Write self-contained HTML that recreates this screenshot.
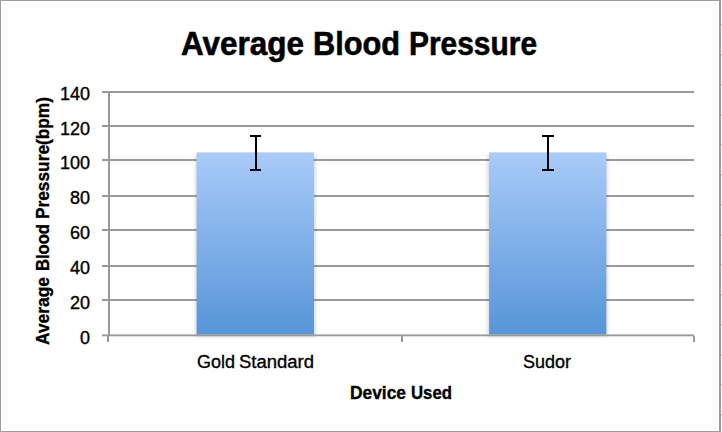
<!DOCTYPE html>
<html><head><meta charset="utf-8">
<style>
html,body{margin:0;padding:0;background:#fff;}
body{width:722px;height:432px;overflow:hidden;}
svg{display:block;}
text{font-family:"Liberation Sans",sans-serif;fill:#000;stroke:#000;stroke-width:0.35px;}
</style></head>
<body>
<svg width="722" height="432" viewBox="0 0 722 432">
<defs>
<linearGradient id="bg" x1="0" y1="0" x2="0" y2="1">
<stop offset="0" stop-color="#a9cbf9"/>
<stop offset="1" stop-color="#5695d8"/>
</linearGradient>
<filter id="sh" x="-30%" y="-10%" width="160%" height="120%"><feGaussianBlur stdDeviation="1.8"/></filter>
</defs>
<rect x="0" y="0" width="722" height="432" fill="#fff"/>
<!-- chart border -->
<g fill="#9c9c9c" shape-rendering="crispEdges">
<rect x="0" y="0" width="721" height="1"/>
<rect x="0" y="0" width="1" height="432"/>
<rect x="719" y="0" width="2" height="432"/>
<rect x="0" y="431" width="721" height="1"/>
</g>
<g fill="#aaaaaa"><rect x="721" y="24.3" width="1" height="1.2"/><rect x="721" y="54.3" width="1" height="1.2"/><rect x="721" y="84.3" width="1" height="1.2"/><rect x="721" y="114.3" width="1" height="1.2"/><rect x="721" y="144.3" width="1" height="1.2"/><rect x="721" y="174.3" width="1" height="1.2"/><rect x="721" y="204.3" width="1" height="1.2"/><rect x="721" y="234.3" width="1" height="1.2"/><rect x="721" y="264.3" width="1" height="1.2"/><rect x="721" y="294.3" width="1" height="1.2"/><rect x="721" y="324.3" width="1" height="1.2"/><rect x="721" y="354.3" width="1" height="1.2"/><rect x="721" y="384.3" width="1" height="1.2"/><rect x="721" y="414.3" width="1" height="1.2"/></g>
<!-- gridlines -->
<g fill="#9a9a9a" shape-rendering="crispEdges">
<rect x="102" y="91" width="592" height="2"/>
<rect x="102" y="125" width="592" height="2"/>
<rect x="102" y="159" width="592" height="2"/>
<rect x="102" y="195" width="592" height="2"/>
<rect x="102" y="229" width="592" height="2"/>
<rect x="102" y="265" width="592" height="2"/>
<rect x="102" y="299" width="592" height="2"/>
</g>
<!-- bar shadows -->
<rect x="195" y="155" width="121" height="182" fill="#2a2520" opacity="0.15" filter="url(#sh)"/>
<rect x="487" y="155" width="121" height="182" fill="#2a2520" opacity="0.15" filter="url(#sh)"/>
<!-- bars -->
<rect x="196.6" y="152.4" width="117.4" height="182.1" fill="url(#bg)"/>
<rect x="489.1" y="152.4" width="117.2" height="182.1" fill="url(#bg)"/>
<!-- axes -->
<rect x="102" y="334.4" width="592" height="1.9" fill="#9a9a9a"/>
<g fill="#9a9a9a" shape-rendering="crispEdges">
<rect x="108" y="91" width="2" height="245"/>
<rect x="107" y="336" width="2" height="6"/>
<rect x="401" y="336" width="2" height="6"/>
<rect x="693" y="336" width="2" height="6"/>
</g>
<!-- error bars -->
<g fill="#000" shape-rendering="crispEdges">
<rect x="255" y="135" width="2" height="36"/>
<rect x="250" y="135" width="11" height="2"/>
<rect x="250" y="169" width="11" height="2"/>
<rect x="547" y="135" width="2" height="36"/>
<rect x="542" y="135" width="12" height="2"/>
<rect x="542" y="169" width="12" height="2"/>
</g>
<!-- texts -->
<text id="t1" style="stroke-width:0.6px" x="181.00" y="54.8" font-size="33" font-weight="bold" textLength="123.00" lengthAdjust="spacingAndGlyphs">Average</text>
<text id="t2" style="stroke-width:0.6px" x="313.00" y="54.8" font-size="33" font-weight="bold" textLength="87.10" lengthAdjust="spacingAndGlyphs">Blood</text>
<text id="t3" style="stroke-width:0.6px" x="409.00" y="54.8" font-size="33" font-weight="bold" textLength="128.02" lengthAdjust="spacingAndGlyphs">Pressure</text>
<text id="x1" x="197.00" y="367.6" font-size="18" textLength="38.00" lengthAdjust="spacingAndGlyphs">Gold</text>
<text id="x2" x="239.00" y="367.6" font-size="18" textLength="75.00" lengthAdjust="spacingAndGlyphs">Standard</text>
<text id="x3" x="523.00" y="367.6" font-size="18" textLength="47.98" lengthAdjust="spacingAndGlyphs">Sudor</text>
<text id="a1" x="350.00" y="398.6" font-size="18" font-weight="bold" textLength="56.00" lengthAdjust="spacingAndGlyphs">Device</text>
<text id="a2" x="411.00" y="398.6" font-size="18" font-weight="bold" textLength="41.00" lengthAdjust="spacingAndGlyphs">Used</text>
<text id="v1" transform="translate(49.1,345.00) rotate(-90)" font-size="18" font-weight="bold" textLength="68.00" lengthAdjust="spacingAndGlyphs">Average</text>
<text id="v2" transform="translate(49.1,271.00) rotate(-90)" font-size="18" font-weight="bold" textLength="47.00" lengthAdjust="spacingAndGlyphs">Blood</text>
<text id="v3" transform="translate(49.1,219.00) rotate(-90)" font-size="18" font-weight="bold" textLength="122.00" lengthAdjust="spacingAndGlyphs">Pressure(bpm)</text>
<g font-size="18" text-anchor="end">
<text x="90" y="100.00">140</text>
<text x="90" y="134.86">120</text>
<text x="90" y="168.8">100</text>
<text x="90" y="204.0">80</text>
<text x="90" y="239.44">60</text>
<text x="90" y="274.30">40</text>
<text x="90" y="309.16">20</text>
<text x="90" y="344.02">0</text>
</g>
</svg>
</body></html>
